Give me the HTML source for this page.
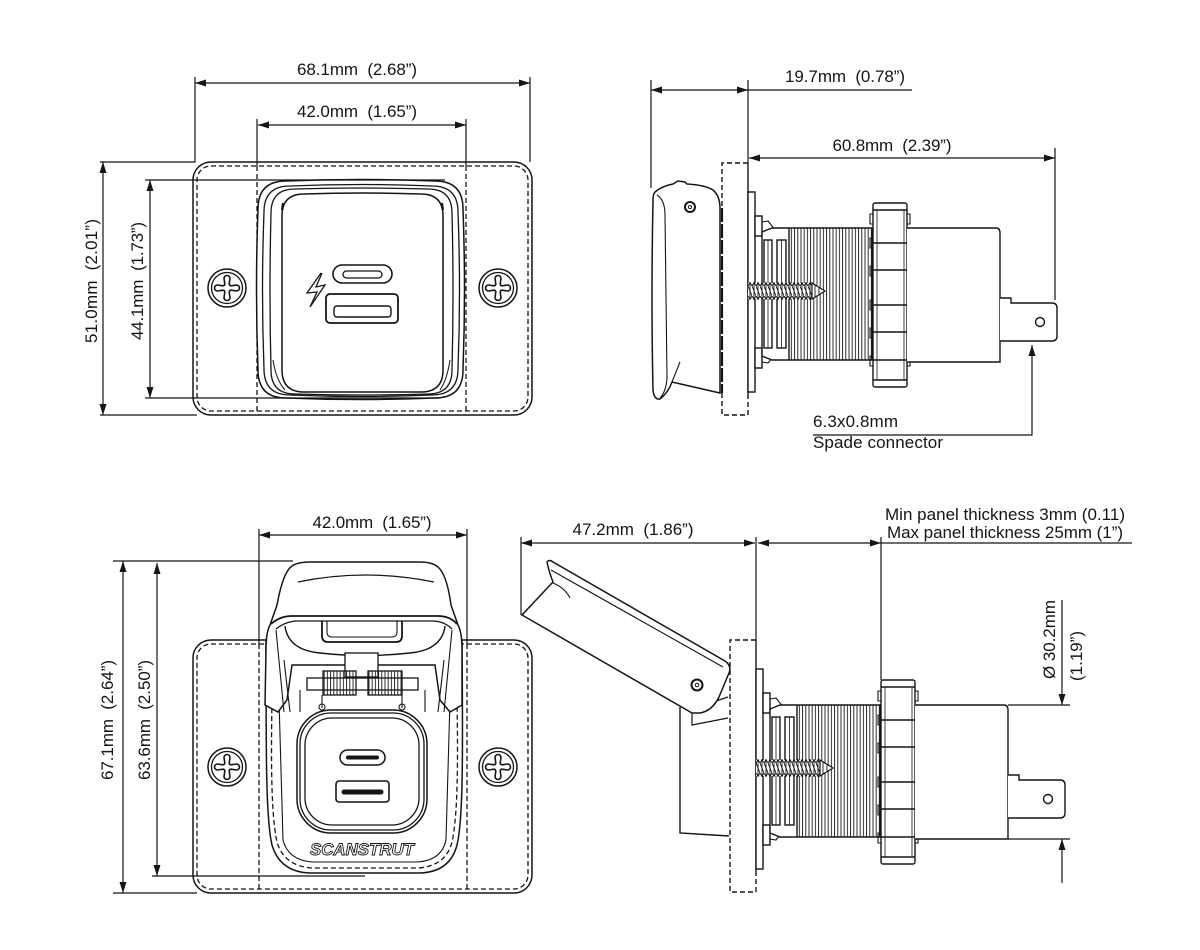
<!DOCTYPE html>
<html><head><meta charset="utf-8">
<style>
html,body{margin:0;padding:0;background:#fff;}
svg{display:block;}
text{font-family:"Liberation Sans",sans-serif;font-size:17px;fill:#151515;stroke:none;}
</style></head><body>
<svg width="1200" height="950" viewBox="0 0 1200 950" xmlns="http://www.w3.org/2000/svg">
<defs>
<marker id="a" viewBox="0 0 11 7" refX="11" refY="3.5" markerWidth="11" markerHeight="7" markerUnits="userSpaceOnUse" orient="auto-start-reverse"><path d="M0,0 L11,3.5 L0,7 Z" fill="#151515"/></marker>
<pattern id="thr" patternUnits="userSpaceOnUse" x="0" y="0" width="3.2" height="20"><line x1="1" y1="0" x2="1" y2="20" stroke="#151515" stroke-width="0.9"/></pattern>
<pattern id="scr" patternUnits="userSpaceOnUse" x="748" y="282" width="4" height="18"><path d="M0,4 L2,0.5 L4,4 M0,14 L2,17.5 L4,14 M0,4 L4,14 M2,0.5 L2,17.5" stroke="#151515" stroke-width="0.9" fill="none"/></pattern>
<g id="screw" fill="none" stroke="#151515">
 <circle r="19" stroke-width="1.5"/>
 <circle r="15.5" stroke-width="1.3"/>
 <path stroke-width="1.6" d="M-3,-9.5 A3,3 0 0 1 3,-9.5 L2.2,-4.2 Q2.2,-2.2 4.2,-2.2 L9.5,-3 A3,3 0 0 1 9.5,3 L4.2,2.2 Q2.2,2.2 2.2,4.2 L3,9.5 A3,3 0 0 1 -3,9.5 L-2.2,4.2 Q-2.2,2.2 -4.2,2.2 L-9.5,3 A3,3 0 0 1 -9.5,-3 L-4.2,-2.2 Q-2.2,-2.2 -2.2,-4.2 Z"/>
</g>
<g id="rear" fill="none" stroke="#151515" stroke-width="1.4">
 <path d="M748,163 L722,163 L722,415 L748,415 L748,398" stroke-dasharray="5,3"/>
 <line x1="748" y1="163" x2="748" y2="398"/>
 <rect x="748" y="192" width="7" height="200" fill="#fff"/>
 <rect x="755" y="216" width="7" height="20" fill="#fff"/>
 <rect x="755" y="348" width="7" height="20" fill="#fff"/>
 <path d="M762,222 L768,221 L776,231 M762,362 L768,363 L776,353" stroke-width="1.1"/>
 <path d="M762,232 L772,228 L872,228 L872,360 L772,360 L762,356 Z" fill="#fff"/>
 <rect x="789" y="228" width="83" height="132" fill="url(#thr)" stroke="none"/>
 <line x1="789" y1="228" x2="789" y2="360"/>
 <rect x="764" y="240" width="8" height="108"/>
 <rect x="777" y="240" width="9" height="108"/>
 <line x1="768" y1="240" x2="768" y2="348" stroke-width="0.8"/>
 <line x1="781.5" y1="240" x2="781.5" y2="348" stroke-width="0.8"/>
 <rect x="748" y="283" width="64" height="16" fill="#fff" stroke="none"/>
 <rect x="748" y="282" width="64" height="18" fill="url(#scr)" stroke="none"/>
 <path d="M812,283 L825,291 L812,299 Z" fill="#fff" stroke-width="1.2"/>
 <path d="M815,285 L815,297 M819,288 L819,294" stroke-width="0.9"/>
 <rect x="873" y="203" width="34" height="184" rx="2" fill="#fff"/>
 <path d="M873,210 L907,210 M873,243 L907,243 M873,270 L907,270 M873,305 L907,305 M873,332 L907,332 M873,360 L907,360 M873,380 L907,380"/>
 <line x1="877" y1="210" x2="877" y2="380" stroke-width="0.8"/>
 <line x1="904" y1="210" x2="904" y2="380" stroke-width="0.8"/>
 <path d="M873,214 L870,214 L870,224 L873,224 M873,238 L870,238 L870,248 L873,248 M873,266 L870,266 L870,276 L873,276 M873,300 L870,300 L870,310 L873,310 M873,328 L870,328 L870,338 L873,338 M873,356 L870,356 L870,366 L873,366 M907,214 L910,214 L910,224 L907,224 M907,356 L910,356 L910,366 L907,366 M907,300 L910,300 L910,310 L907,310" stroke-width="1.1"/>
 <path d="M907,228 L996,228 Q1000,228 1000,233 L1000,362 L907,362" fill="#fff"/>
 <path d="M1000,298 L1011,298 L1011,303 L1052,303 Q1057,303 1057,308 L1057,336 Q1057,341 1052,341 L1000,341" fill="#fff"/>
 <circle cx="1040" cy="322" r="4.5"/>
</g>
</defs>

<!-- ================= TOP LEFT ================= -->
<g fill="none" stroke="#151515" stroke-width="1.3">
 <rect x="193" y="162" width="339" height="253" rx="18" fill="#fff" stroke-width="1.5"/>
 <rect x="197" y="166" width="331" height="245" rx="14" stroke-dasharray="5,3"/>
 <line x1="257" y1="166" x2="257" y2="411" stroke-dasharray="5,3"/>
 <line x1="466" y1="166" x2="466" y2="411" stroke-dasharray="5,3"/>
 <path stroke-width="1.5" fill="#fff" d="M286,181 Q360.5,178 435,181 Q463,181 463,209 Q466,289.5 463,370 Q463,398 435,398 Q360.5,401 286,398 Q258,398 258,370 Q255,289.5 258,209 Q258,181 286,181 Z"/>
 <path d="M290,186 Q361,183 432,186 Q458,186 458,212 Q461,290 458,369 Q458,395 432,395 Q361,398 290,395 Q264,395 264,369 Q261,290 264,212 Q264,186 290,186 Z"/>
 <path d="M295,189 Q361,187 428,189 Q452,189 452,213 Q454,291 452,370 Q452,394 428,394 Q361,396 295,394 Q271,394 271,370 Q269,291 271,213 Q271,189 295,189 Z"/>
 <path stroke-width="1.5" d="M304,194 Q362.5,192 421,194 Q443,194 443,216 L443,370 Q443,392 421,392 L304,392 Q282,392 282,370 L282,216 Q282,194 304,194 Z"/>
 <path d="M283,203 L282,210 M442,203 L443,210" stroke-width="2.2"/>
 <path d="M273,360 Q276,380 285,390 M450,360 Q447,380 440,390" stroke-width="1"/>
 <rect x="333" y="265" width="59" height="18" rx="9" stroke-width="1.6"/>
 <rect x="343" y="271" width="39" height="7" rx="3.5" stroke-width="1.3"/>
 <rect x="326" y="294" width="72" height="29" rx="4" stroke-width="1.8"/>
 <rect x="334" y="306" width="57" height="11" rx="3" stroke-width="1.4"/>
 <path d="M321,273 L307,293 L317,292 L310,307 L325,285 L316,287 L322,273" stroke-width="1.3"/>
 <line x1="195" y1="83" x2="530" y2="83" marker-start="url(#a)" marker-end="url(#a)" stroke-width="1.2"/>
 <path d="M195,77 L195,162 L100,162" stroke-width="1.2"/>
 <line x1="530" y1="77" x2="530" y2="162" stroke-width="1.2"/>
 <line x1="258" y1="125" x2="466" y2="125" marker-start="url(#a)" marker-end="url(#a)" stroke-width="1.2"/>
 <line x1="257" y1="119" x2="257" y2="166" stroke-width="1.2"/>
 <line x1="466" y1="119" x2="466" y2="166" stroke-width="1.2"/>
 <line x1="103" y1="162" x2="103" y2="415" marker-start="url(#a)" marker-end="url(#a)" stroke-width="1.2"/>
 <line x1="100" y1="415" x2="197" y2="415" stroke-width="1.2"/>
 <line x1="150" y1="180" x2="150" y2="398" marker-start="url(#a)" marker-end="url(#a)" stroke-width="1.2"/>
 <line x1="145" y1="180" x2="445" y2="180" stroke-width="1.2"/>
 <line x1="145" y1="398" x2="440" y2="398" stroke-width="1.2"/>
</g>
<use href="#screw" x="227" y="288"/>
<use href="#screw" x="498" y="288"/>
<text x="357" y="75" text-anchor="middle" textLength="120">68.1mm&#160; (2.68”)</text>
<text x="357" y="117" text-anchor="middle" textLength="120">42.0mm&#160; (1.65”)</text>
<text transform="translate(97,281) rotate(-90)" text-anchor="middle" textLength="124">51.0mm&#160; (2.01”)</text>
<text transform="translate(143,281) rotate(-90)" text-anchor="middle" textLength="118">44.1mm&#160; (1.73”)</text>

<!-- ================= TOP RIGHT ================= -->
<use href="#rear"/>
<g fill="none" stroke="#151515" stroke-width="1.4">
 <path fill="#fff" stroke-width="1.5" d="M655,192 Q662,186 673,184 L678,181 L685,182 L687,184 Q705,185 713,190 Q720,196 720,208 L720,393 L672,382 Q668,393 660,399 Q654,400 653,390 Q651,300 653,200 Q653,194 655,192 Z"/>
 <path d="M657,195 Q665,200 665,215 L667,378 Q666,392 660,398" stroke-width="1.1"/>
 <path d="M672,382 L680,362" stroke-width="1.1"/>
 <line x1="722" y1="208" x2="722" y2="393" stroke-width="2.2" stroke-dasharray="14,2"/>
 <circle cx="690" cy="207" r="5" stroke-width="2"/>
 <circle cx="690" cy="207" r="1.6" stroke-width="1"/>
 <line x1="651" y1="90" x2="748" y2="90" marker-start="url(#a)" marker-end="url(#a)" stroke-width="1.2"/>
 <line x1="748" y1="90" x2="912" y2="90" stroke-width="1.2"/>
 <line x1="651" y1="80" x2="651" y2="188" stroke-width="1.2"/>
 <line x1="748" y1="80" x2="748" y2="163" stroke-width="1.2"/>
 <line x1="749" y1="158" x2="1055" y2="158" marker-start="url(#a)" marker-end="url(#a)" stroke-width="1.2"/>
 <line x1="1055" y1="148" x2="1055" y2="300" stroke-width="1.2"/>
 <path d="M813,435 L1032,435 L1032,345" marker-end="url(#a)" stroke-width="1.2"/>
</g>
<text x="845" y="82" text-anchor="middle" textLength="120">19.7mm&#160; (0.78”)</text>
<text x="892" y="151" text-anchor="middle" textLength="119">60.8mm&#160; (2.39”)</text>
<text x="813" y="427" textLength="85">6.3x0.8mm</text>
<text x="813" y="448" textLength="130">Spade connector</text>

<!-- ================= BOTTOM LEFT ================= -->
<g fill="none" stroke="#151515" stroke-width="1.3">
 <rect x="193" y="640" width="339" height="253" rx="18" fill="#fff" stroke-width="1.5"/>
 <rect x="197" y="644" width="331" height="245" rx="14" stroke-dasharray="5,3"/>
 <line x1="259" y1="644" x2="259" y2="889" stroke-dasharray="5,3"/>
 <line x1="467" y1="644" x2="467" y2="889" stroke-dasharray="5,3"/>
 <path fill="#fff" stroke-width="1.5" d="M266,640 C266,760 266,820 272,845 Q280,872 310,873 L420,873 Q450,872 457,845 C463,820 463,760 462,640 Z"/>
 <path stroke-dasharray="5,3" d="M272,700 C271,760 271,815 277,842 Q284,866 312,868 L418,868 Q446,866 452,842 C458,815 458,760 457,700"/>
 <path d="M279,700 L283,840 Q288,860 312,862 L418,862 Q442,860 446,840 L450,700" stroke-width="1.1"/>
 <rect x="297" y="710" width="130" height="123" rx="34" fill="#fff" stroke-width="1.5"/>
 <rect x="300" y="713" width="124" height="117" rx="31"/>
 <rect x="305" y="718" width="114" height="107" rx="27"/>
 <rect x="340" y="750" width="45" height="15" rx="7.5" stroke-width="1.5"/>
 <line x1="348" y1="757.5" x2="377" y2="757.5" stroke-width="4" stroke-linecap="round"/>
 <rect x="336" y="781" width="53" height="21" rx="3" stroke-width="1.6"/>
 <line x1="344" y1="792" x2="381" y2="792" stroke-width="5" stroke-linecap="round"/>
 <path fill="#fff" stroke-width="1.5" d="M265,705 L266,650 Q266,632 270,625 L277,605 Q283,572 292,566 Q298,562 310,562 L420,562 Q432,562 438,567 Q447,575 451,605 L458,625 Q462,632 462,650 L462,705 L450,712 L440,700 L435,665 L292,665 L287,700 L278,712 Z"/>
 <path d="M298,582 Q365,568 434,582" stroke-width="1.2"/>
 <path d="M271,624 Q280,616 292,616 L438,616 Q450,616 457,624" stroke-width="1.8"/>
 <path d="M276,629 Q286,621 298,621 L432,621 Q444,621 452,629" stroke-width="1.3"/>
 <path d="M285,626 Q288,650 320,653 Q365,658 410,653 Q442,650 445,626" stroke-width="1.4"/>
 <path d="M322,621 L322,636 Q322,642 328,642 L396,642 Q402,642 402,636 L402,621" stroke-width="1.8"/>
 <path d="M327,621 L327,632 Q327,637 332,637 L392,637 Q397,637 397,632 L397,621" stroke-width="1.1"/>
 <rect x="345" y="653" width="33" height="24" fill="#fff"/>
 <rect x="307" y="678" width="111" height="12" fill="#fff"/>
 <rect x="323" y="671" width="33" height="24" fill="url(#thr)"/>
 <rect x="368" y="671" width="34" height="24" fill="url(#thr)"/>
 <path d="M276,630 L284,712 M284,660 L290,712 M452,630 L444,712 M444,660 L438,712" stroke-width="1.1"/>
 <path d="M300,690 L300,712 M425,690 L425,712 M322,695 L322,708 M402,695 L402,708" stroke-width="1.1"/>
 <circle cx="322" cy="707" r="3" stroke-width="1.1"/>
 <circle cx="402" cy="707" r="3" stroke-width="1.1"/>
 <line x1="259" y1="535" x2="467" y2="535" marker-start="url(#a)" marker-end="url(#a)" stroke-width="1.2"/>
 <line x1="259" y1="529" x2="259" y2="644" stroke-width="1.2"/>
 <line x1="467" y1="529" x2="467" y2="644" stroke-width="1.2"/>
 <line x1="123" y1="561" x2="123" y2="893" marker-start="url(#a)" marker-end="url(#a)" stroke-width="1.2"/>
 <line x1="157" y1="563" x2="157" y2="876" marker-start="url(#a)" marker-end="url(#a)" stroke-width="1.2"/>
 <line x1="113" y1="561" x2="293" y2="561" stroke-width="1.2"/>
 <line x1="113" y1="893" x2="197" y2="893" stroke-width="1.2"/>
 <line x1="152" y1="876" x2="365" y2="876" stroke-width="1.2"/>
</g>
<use href="#screw" x="227" y="767"/>
<use href="#screw" x="498" y="767"/>
<text x="362" y="855" text-anchor="middle" font-style="italic" font-weight="bold" font-size="15" textLength="104" lengthAdjust="spacingAndGlyphs" style="fill:#fff;stroke:#151515;stroke-width:0.9">SCANSTRUT</text>
<text x="372" y="528" text-anchor="middle" textLength="119">42.0mm&#160; (1.65”)</text>
<text transform="translate(113,720) rotate(-90)" text-anchor="middle" textLength="120">67.1mm&#160; (2.64”)</text>
<text transform="translate(150,720) rotate(-90)" text-anchor="middle" textLength="120">63.6mm&#160; (2.50”)</text>

<!-- ================= BOTTOM RIGHT ================= -->
<use href="#rear" transform="translate(8,477)"/>
<g fill="none" stroke="#151515" stroke-width="1.4">
 <path d="M680,707 L680,833 L729,836" fill="#fff"/>
 <path d="M692,713 L692,725 L728,718 M710,703 L728,697" stroke-width="1.2"/>
 <path fill="#fff" stroke-width="1.5" d="M547,562 Q549,559 553,562 L725,661 Q732,666 729,673 L719,697 Q712,711 700,713 L692,713 L522,615 L553,582 Q549,572 547,562 Z"/>
 <path d="M551,570 Q600,598 723,667" stroke-width="1.1"/>
 <path d="M553,583 Q565,588 570,598" stroke-width="1.1"/>
 <circle cx="697" cy="685" r="5.5" stroke-width="2"/>
 <circle cx="697" cy="685" r="1.8" stroke-width="1"/>
 <line x1="521" y1="543" x2="755" y2="543" marker-start="url(#a)" marker-end="url(#a)" stroke-width="1.2"/>
 <line x1="758" y1="543" x2="881" y2="543" marker-start="url(#a)" marker-end="url(#a)" stroke-width="1.2"/>
 <line x1="881" y1="543" x2="1132" y2="543" stroke-width="1.2"/>
 <line x1="521" y1="537" x2="521" y2="615" stroke-width="1.2"/>
 <line x1="756" y1="537" x2="756" y2="640" stroke-width="1.2"/>
 <line x1="881" y1="537" x2="881" y2="680" stroke-width="1.2"/>
 <line x1="1062" y1="600" x2="1062" y2="705" marker-end="url(#a)" stroke-width="1.2"/>
 <line x1="1008" y1="705" x2="1070" y2="705" stroke-width="1.2"/>
 <line x1="1062" y1="883" x2="1062" y2="839" marker-end="url(#a)" stroke-width="1.2"/>
 <line x1="1008" y1="839" x2="1070" y2="839" stroke-width="1.2"/>
</g>
<text x="633" y="535" text-anchor="middle" textLength="121">47.2mm&#160; (1.86”)</text>
<text x="885" y="520" textLength="240">Min panel thickness 3mm (0.11)</text>
<text x="887" y="538" textLength="236">Max panel thickness 25mm (1”)</text>
<text transform="translate(1055,679) rotate(-90)" textLength="79">Ø 30.2mm</text>
<text transform="translate(1082,681) rotate(-90)">(1.19”)</text>
</svg>
</body></html>
